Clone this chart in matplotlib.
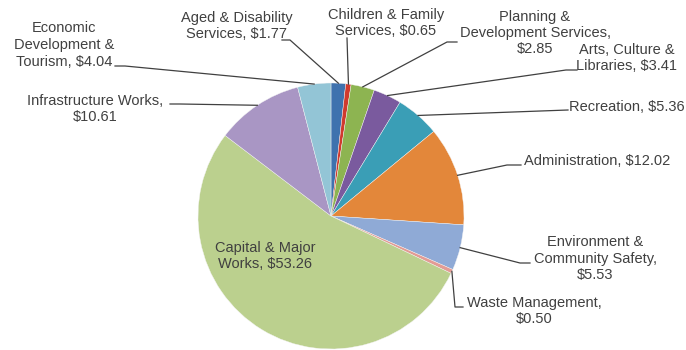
import numpy as np
import matplotlib
matplotlib.use("Agg")
import matplotlib.pyplot as plt

plt.rcParams['font.family'] = ['Liberation Sans', 'DejaVu Sans']

### spending by service area, clockwise from 12 o'clock
categories = ["Aged & Disability|Services, ", "Children & Family|Services, ",
              "Planning &|Development Services,|", "Arts, Culture &|Libraries, ",
              "Recreation, ", "Administration, ", "Environment &|Community Safety,|",
              "Waste Management,|", "Capital & Major|Works, ",
              "Infrastructure Works,|", "Economic|Development &|Tourism, "]
values = [1.77, 0.65, 2.85, 3.41, 5.36, 12.02, 5.53, 0.50, 53.26, 10.61, 4.04]
colors = ["#3F72AE", "#D03A2E", "#8DB451", "#7A5A9E", "#3A9EB6", "#E3873A",
          "#8FAAD6", "#E39B94", "#BBD08E", "#A996C4", "#93C5D6"]

W, H = 686, 350
fig = plt.figure(figsize=(W / 100, H / 100), dpi=100)
ax = fig.add_axes([0, 0, 1, 1])

cx, cy, r = 331, H - 216, 133
wedges, _ = ax.pie(values, colors=colors, startangle=90, counterclock=False,
                   center=(cx, cy), radius=r, frame=True,
                   wedgeprops=dict(linewidth=0.3, edgecolor='#f4f4f4'))
ax.set_xlim(0, W)
ax.set_ylim(0, H)
ax.set_aspect('equal')
ax.axis('off')

# label centre (image px from top-left), leader start, optional elbow
labels = [
    ((237, 26), (282, 40), (290, 40)),
    ((386, 23), (347, 38), None),
    ((535, 33), (457, 42), (447, 42)),
    ((627, 58), (577, 70), (566, 70)),
    ((627, 107), (568, 110), None),
    ((597, 161), (521, 165), (507, 165)),
    ((595, 259), (530, 263), (520, 263)),
    ((534, 311), (463, 307), (455, 307)),
    ((265, 256), None, None),
    ((95, 109), (170, 104), (180, 104)),
    ((64, 45), (115, 66), (125, 66)),
]

txt_color = "#404040"
step = 16.5
for w, name, v, (pos, anchor, elbow) in zip(wedges, categories, values, labels):
    lines = (name + "$%.2f" % v).split("|")
    n = len(lines)
    for i, line in enumerate(lines):
        y = pos[1] + (i - (n - 1) / 2) * step
        ax.text(pos[0], H - y, line, ha='center', va='center', fontsize=10.5,
                color=txt_color)
    if anchor is None:
        continue
    mid = np.deg2rad((w.theta1 + w.theta2) / 2)
    ex, ey = cx + r * np.cos(mid), cy + r * np.sin(mid)
    xs = [anchor[0]]
    ys = [H - anchor[1]]
    if elbow is not None:
        xs.append(elbow[0])
        ys.append(H - elbow[1])
    xs.append(ex)
    ys.append(ey)
    ax.plot(xs, ys, color="#404040", linewidth=0.9)

fig.savefig("out.png", dpi=100)
